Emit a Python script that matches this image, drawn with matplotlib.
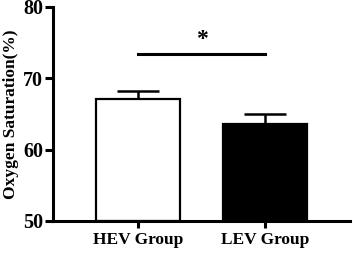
import matplotlib
matplotlib.use("Agg")
import matplotlib.pyplot as plt

groups = ["HEV Group", "LEV Group"]
means = [67.1, 63.6]
errors = [1.1, 1.4]
bar_colors = ["white", "black"]
sig_level = 73.4
sig_text = "*"

plt.rcParams['font.family'] = ['Liberation Serif', 'DejaVu Serif']
plt.rcParams['font.weight'] = 'bold'

fig = plt.figure(figsize=(3.53, 2.56), dpi=100)
ax = fig.add_axes([0.150, 0.137, 0.842, 0.836])

x = list(range(len(groups)))
ax.bar(x, [m - 50 for m in means], bottom=50, width=0.66, color=bar_colors,
       edgecolor="black", linewidth=1.6, zorder=2)
ax.errorbar(x, means, yerr=[[0, 0], errors], fmt="none", ecolor="black",
            elinewidth=1.8, capsize=15, capthick=1.8, zorder=1)

# significance bracket
ax.plot([x[0], x[1]], [sig_level, sig_level], color="black", lw=2.2, clip_on=False)
ax.text((x[0] + x[1]) / 2, sig_level + 0.5, sig_text, ha="center", va="bottom",
        fontsize=17, fontweight="bold")

ax.set_ylim(50, 80)
ax.set_xlim(-0.67, 1.67)
ax.set_yticks([50, 60, 70, 80])
ax.set_xticks(x)
ax.set_xticklabels(groups, fontsize=12.5, fontweight="bold")
ax.tick_params(axis="y", labelsize=14.5, width=2.2, length=6, pad=1)
ax.tick_params(axis="x", width=2.2, length=5, pad=3)
for lab in ax.get_yticklabels():
    lab.set_fontweight("bold")
ax.set_ylabel("Oxygen Saturation(%)", fontsize=12.5, fontweight="bold", labelpad=3)

ax.spines["top"].set_visible(False)
ax.spines["right"].set_visible(False)
ax.spines["left"].set_linewidth(2.2)
ax.spines["bottom"].set_linewidth(2.2)

fig.savefig("out.png", dpi=100)
